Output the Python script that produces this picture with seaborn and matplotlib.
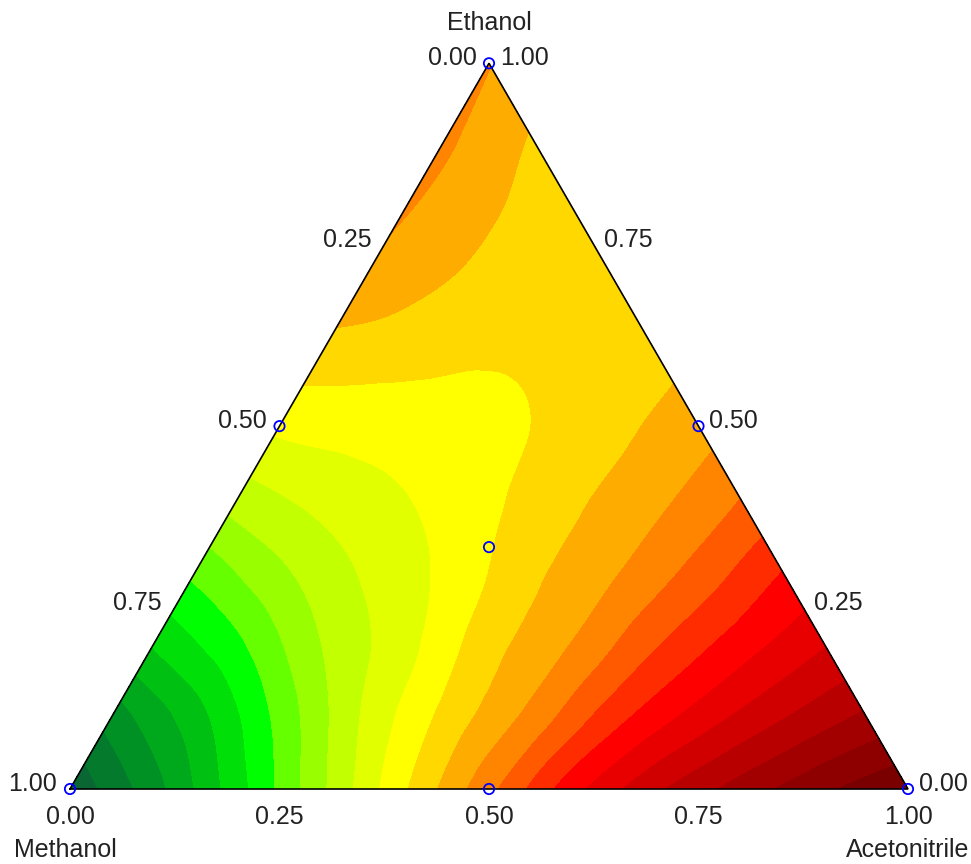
import numpy as np
import matplotlib
matplotlib.use("Agg")
import matplotlib.pyplot as plt
import matplotlib.tri as mtri
from matplotlib.colors import ListedColormap, BoundaryNorm
import seaborn as sns
import pandas as pd

# ---------------- data ----------------
component_names = ["Methanol", "Ethanol", "Acetonitrile"]

# simplex-centroid design points (fractions)
design_methanol = [1.0, 0.0, 0.0, 0.5, 0.5, 0.0, 1 / 3]
design_ethanol = [0.0, 1.0, 0.0, 0.5, 0.0, 0.5, 1 / 3]
design_acetonitrile = [0.0, 0.0, 1.0, 0.0, 0.5, 0.5, 1 / 3]

# response surface (contour-level units),
# one row per ethanol fraction, acetonitrile fraction 0, 0.1, 0.2 ... along the row
ethanol_steps = [0.0, 0.1, 0.2, 0.3, 0.4, 0.5, 0.6, 0.7, 0.8, 0.9, 1.0]
resp_e00 = [0.2, 2.6, 5.6, 8.8, 11.9, 14.7, 17.6, 19.8, 21.4, 22.8, 23.9]
resp_e10 = [2.45, 4.6, 7.3, 10.1, 12.35, 14.3, 16.6, 18.4, 19.9, 21.2]
resp_e20 = [5.1, 6.8, 9.0, 10.65, 12.6, 14.05, 15.9, 17.5, 18.9]
resp_e30 = [7.25, 8.8, 10.1, 11.25, 12.75, 13.9, 15.35, 17.0]
resp_e40 = [9.45, 10.3, 10.95, 11.8, 12.8, 13.75, 15.0]
resp_e50 = [11.2, 11.4, 11.6, 12.0, 12.75, 13.6]
resp_e60 = [12.55, 12.35, 12.1, 12.3, 12.7]
resp_e70 = [13.7, 13.0, 12.4, 12.4]
resp_e80 = [14.08, 13.15, 12.3]
resp_e90 = [14.18, 12.95]
resp_e100 = [14.05]
response_rows = [resp_e00, resp_e10, resp_e20, resp_e30, resp_e40, resp_e50,
                 resp_e60, resp_e70, resp_e80, resp_e90, resp_e100]

tick_values = [0.0, 0.25, 0.5, 0.75, 1.0]
contour_levels = list(range(0, 25))
band_colors = [
    "#0a6633", "#037a2c", "#009124", "#00a81b", "#00c012", "#00e008", "#00ff00",
    "#66ff00", "#99ff00", "#c2ff00", "#e2ff00", "#ffff00",
    "#ffd800", "#ffac00", "#ff8400", "#ff5a00", "#ff2c00", "#ff0000",
    "#e80000", "#d00000", "#b80000", "#a20000", "#8e0000", "#7a0000",
]

# ---------------- helpers ----------------
H = np.sqrt(3) / 2


def to_xy(eth, acn):
    eth = np.asarray(eth, float)
    acn = np.asarray(acn, float)
    return acn + eth / 2, eth * H


rows = []
for eth, vals in zip(ethanol_steps, response_rows):
    for k, v in enumerate(vals):
        acn = round(k * 0.1, 10)
        rows.append({"Methanol": 1 - eth - acn, "Ethanol": eth,
                     "Acetonitrile": acn, "response": v})
grid = pd.DataFrame(rows)
gx, gy = to_xy(grid["Ethanol"], grid["Acetonitrile"])

# ---------------- figure ----------------
sns.set_theme(style="white")
plt.rcParams["font.family"] = ["Liberation Sans", "DejaVu Sans"]

W, Hpx = 971, 864
fig = plt.figure(figsize=(W / 100, Hpx / 100), dpi=100)
ax = fig.add_axes([0, 0, 1, 1])
scale = 838.0
ax.set_xlim(-70 / scale, (W - 70) / scale)
ax.set_ylim(-(Hpx - 789) / scale, 789 / scale)
ax.axis("off")

tri = mtri.Triangulation(gx, gy)
interp = mtri.CubicTriInterpolator(tri, grid["response"].values, kind="geom")
refiner = mtri.UniformTriRefiner(tri)
tri_f, z_f = refiner.refine_field(grid["response"].values, triinterpolator=interp, subdiv=4)

cmap = ListedColormap(band_colors)
cmap.set_under(band_colors[0])
cmap.set_over(band_colors[-1])
norm = BoundaryNorm(contour_levels, cmap.N)
ax.tricontourf(tri_f, z_f, levels=contour_levels, cmap=cmap, norm=norm, extend="both")

# triangle outline
ox, oy = to_xy([0, 0, 1, 0], [0, 1, 0, 0])
ax.plot(ox, oy, color="black", lw=1.2, solid_joinstyle="miter")

# design points
dx, dy = to_xy(design_ethanol, design_acetonitrile)
sns.scatterplot(x=dx, y=dy, ax=ax, s=55, facecolor="none", edgecolor="#0000ff",
                linewidth=1.3, zorder=5, clip_on=False)

txt = dict(fontsize=18, color="#222222", ha="center", va="center",
           textcoords="offset pixels", annotation_clip=False)

# left edge: methanol fraction
for m in tick_values:
    px, py = to_xy(1 - m, 0)
    ax.annotate(f"{m:.2f}", (px, py), xytext=(-37, 5), **txt)
# right edge: ethanol fraction
for e in tick_values:
    px, py = to_xy(e, 1 - e)
    ax.annotate(f"{e:.2f}", (px, py), xytext=(35, 5), **txt)
# bottom edge: acetonitrile fraction
for c in tick_values:
    px, py = to_xy(0, c)
    ax.annotate(f"{c:.2f}", (px, py), xytext=(0, -28), **txt)

vx, vy = to_xy([0, 1, 0], [0, 0, 1])
ax.annotate(component_names[0], (vx[0], vy[0]), xytext=(-5, -61), **txt)
ax.annotate(component_names[1], (vx[1], vy[1]), xytext=(0, 40), **txt)
ax.annotate(component_names[2], (vx[2], vy[2]), xytext=(0, -61), **txt)

fig.savefig("out.png", dpi=100)
